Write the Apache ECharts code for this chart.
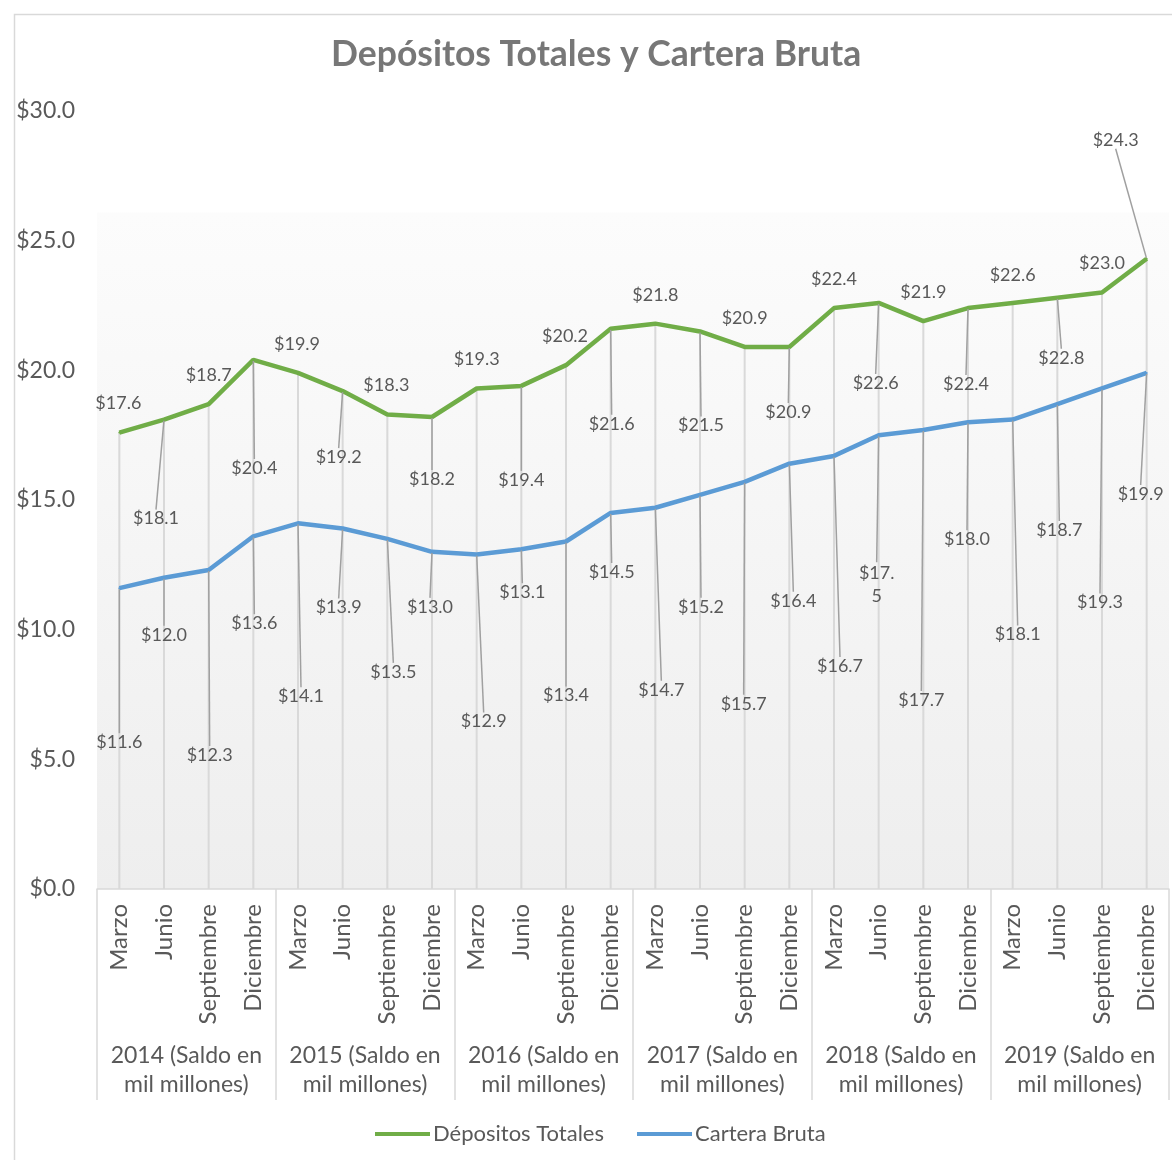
<!DOCTYPE html>
<html>
<head>
<meta charset="utf-8">
<script src="https://cdn.jsdelivr.net/npm/echarts@6/dist/echarts.min.js"></script>
<style>
html,body{margin:0;padding:0;background:#fff;}
#chart{width:1172px;height:1160px;}
</style>
</head>
<body>
<div id="chart"></div>
<script>
// ---- data ----
var months = ['Marzo','Junio','Septiembre','Diciembre','Marzo','Junio','Septiembre','Diciembre',
  'Marzo','Junio','Septiembre','Diciembre','Marzo','Junio','Septiembre','Diciembre',
  'Marzo','Junio','Septiembre','Diciembre','Marzo','Junio','Septiembre','Diciembre'];
var years = ['2014 (Saldo en\nmil millones)','2015 (Saldo en\nmil millones)','2016 (Saldo en\nmil millones)',
  '2017 (Saldo en\nmil millones)','2018 (Saldo en\nmil millones)','2019 (Saldo en\nmil millones)'];
var depositos = [17.6,18.1,18.7,20.4,19.9,19.2,18.3,18.2,19.3,19.4,20.2,21.6,21.8,21.5,20.9,20.9,22.4,22.6,21.9,22.4,22.6,22.8,23.0,24.3];
var cartera = [11.6,12.0,12.3,13.6,14.1,13.9,13.5,13.0,12.9,13.1,13.4,14.5,14.7,15.2,15.7,16.4,16.7,17.5,17.7,18.0,18.1,18.7,19.3,19.9];
var yTicks = {min:0, max:30, interval:5};

// ---- label placement (style) ----
var gDx = [-1,-8,0,1,-1,-4,-1,0,0,0,-1,1,0,1,0,-1,0,-3,0,-2,0,4,0,-31];
var gDy = [-29,99,-29,108,-29,66,-29,62,-29,94,-29,95,-28,94,-29,65,-29,80,-29,76,-28,60,-29,-119];
var bDx = [0,0,1,1,3,-4,6,-2,7,1,0,1,6,1,-1,4,6,-2,-2,-1,5,2,-2,-6];
var bDy = [154,57,185,87,173,79,133,55,167,43,154,59,182,112,222,137,210,150,270,117,215,126,214,121];

var FONT = 'Lato';
var TXT = '#595959';

function items(vals, dy, wrapIdx){
  return vals.map(function(v,i){
    var it = {value:v, labelLine:{show: Math.abs(dy[i])>40}};
    if (wrapIdx === i) it.label = {width:36, overflow:'breakAll', lineHeight:23};
    return it;
  });
}

var chart = echarts.init(document.getElementById('chart'), null, {renderer:'canvas'});
var option = {
  backgroundColor:'#ffffff',
  animation:false,
  textStyle:{fontFamily:FONT},
  title:{
    text:'Depósitos Totales y Cartera Bruta',
    left:331, top:37, padding:0,
    textStyle:{fontFamily:FONT, fontSize:35.5, fontWeight:'bold', color:'#777777'}
  },
  graphic:[{
    type:'rect', left:12, top:12, shape:{width:1200, height:1200},
    style:{fill:'none', stroke:'#d9d9d9', lineWidth:1.5}, silent:true, z:-10
  }],
  legend:{
    data:[{name:'Dépositos Totales', icon:'rect'},{name:'Cartera Bruta', icon:'rect'}],
    left:370, top:1118, itemWidth:55, itemHeight:4, itemGap:33,
    textStyle:{fontFamily:FONT, fontSize:22, color:TXT, padding:[0,0,0,-2]}
  },
  grid:{
    left:97, right:3, top:111, bottom:271,
    show:true, borderWidth:0,
    backgroundColor:{type:'linear', x:0, y:0, x2:0, y2:1, colorStops:[
      {offset:0, color:'#ffffff'},{offset:0.13, color:'#ffffff'},
      {offset:0.131, color:'#fcfcfc'},{offset:1, color:'#eeeeee'}]}
  },
  xAxis:[{
    type:'category', data:months, boundaryGap:true, position:'bottom',
    axisLine:{show:false}, axisTick:{show:false},
    axisLabel:{rotate:90, interval:0, margin:15, fontFamily:FONT, fontSize:24, color:TXT}
  },{
    type:'category', data:years, boundaryGap:true, position:'bottom',
    axisLine:{show:true, lineStyle:{color:'#d9d9d9', width:1.5}},
    axisTick:{show:true, interval:0, length:211, lineStyle:{color:'#d9d9d9', width:1.5}},
    axisLabel:{interval:0, margin:152, fontFamily:FONT, fontSize:23, color:TXT, lineHeight:29, align:'center'}
  }],
  yAxis:{
    type:'value', min:yTicks.min, max:yTicks.max, interval:yTicks.interval,
    axisLine:{show:false}, axisTick:{show:false}, splitLine:{show:false},
    axisLabel:{margin:22, fontFamily:FONT, fontSize:23, color:TXT,
      formatter:function(v){return '$'+v.toFixed(1);}}
  },
  series:[{
    name:'drop', type:'bar', xAxisIndex:0, data:depositos, barWidth:2,
    itemStyle:{color:'#d9d9d9'}, silent:true, z:1
  },{
    name:'Dépositos Totales', type:'line', xAxisIndex:0, data:items(depositos,gDy,-1),
    symbol:'circle', symbolSize:2, showSymbol:true, z:3,
    lineStyle:{color:'#70ad47', width:4.5}, itemStyle:{color:'#70ad47'},
    label:{show:true, position:'inside', fontFamily:FONT, fontSize:18, color:TXT,
      formatter:function(p){return '$'+p.value.toFixed(1);}},
    labelLine:{show:true, lineStyle:{color:'#a0a0a0', width:1.5}},
    labelLayout:function(p){return {dx:gDx[p.dataIndex], dy:gDy[p.dataIndex]};}
  },{
    name:'Cartera Bruta', type:'line', xAxisIndex:0, data:items(cartera,bDy,17),
    symbol:'circle', symbolSize:2, showSymbol:true, z:3,
    lineStyle:{color:'#5b9bd5', width:4.5}, itemStyle:{color:'#5b9bd5'},
    label:{show:true, position:'inside', fontFamily:FONT, fontSize:18, color:TXT,
      formatter:function(p){return '$'+p.value.toFixed(1);}},
    labelLine:{show:true, lineStyle:{color:'#a0a0a0', width:1.5}},
    labelLayout:function(p){return {dx:bDx[p.dataIndex], dy:bDy[p.dataIndex]};}
  }]
};
chart.setOption(option);
</script>
</body>
</html>
